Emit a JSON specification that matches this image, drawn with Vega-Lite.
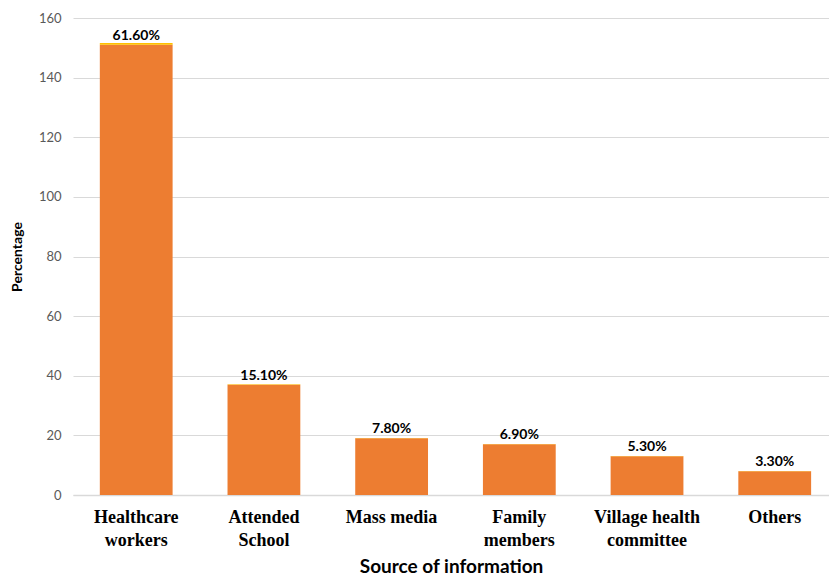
{
  "$schema": "https://vega.github.io/schema/vega-lite/v6.json",
  "width": 756,
  "height": 477,
  "autosize": {"type": "none"},
  "padding": {"left": 73, "top": 18, "right": 0, "bottom": 82},
  "background": "white",
  "data": {
    "values": [
      {"source": "Healthcare\nworkers", "count": 151, "share": 0.616, "label": "61.60%"},
      {"source": "Attended\nSchool", "count": 37, "share": 0.151, "label": "15.10%"},
      {"source": "Mass media", "count": 19, "share": 0.078, "label": "7.80%"},
      {"source": "Family\nmembers", "count": 17, "share": 0.069, "label": "6.90%"},
      {"source": "Village health\ncommittee", "count": 13, "share": 0.053, "label": "5.30%"},
      {"source": "Others", "count": 8, "share": 0.033, "label": "3.30%"}
    ]
  },
  "config": {"view": {"stroke": null}},
  "encoding": {
    "x": {
      "field": "source",
      "type": "nominal",
      "sort": null,
      "scale": {"paddingInner": 0.43, "paddingOuter": 0.175, "align": 0.6},
      "axis": {
        "title": "Source of information",
        "titleFont": "Lato",
        "titleFontSize": 19,
        "titleFontWeight": "bold",
        "titleColor": "#000000",
        "titlePadding": 8,
        "labelExpr": "split(datum.label, '\\n')",
        "labelFont": "Liberation Serif",
        "labelFontSize": 18,
        "labelFontWeight": "bold",
        "labelColor": "#000000",
        "labelLineHeight": 23,
        "labelAngle": 0,
        "labelPadding": 13,
        "ticks": false,
        "domainColor": "#d9d9d9",
        "domainWidth": 1.5
      }
    }
  },
  "layer": [
    {
      "transform": [{"fold": ["count", "share"], "as": ["series", "value"]}],
      "mark": {"type": "bar"},
      "encoding": {
        "y": {
          "field": "value",
          "type": "quantitative",
          "stack": "zero",
          "scale": {"domain": [0, 160]},
          "axis": {
            "title": "Percentage",
            "titleFont": "Lato",
            "titleFontSize": 14,
            "titleFontWeight": "bold",
            "titleColor": "#000000",
            "titlePadding": 14,
            "values": [0, 20, 40, 60, 80, 100, 120, 140, 160],
            "labelFont": "Lato",
            "labelFontSize": 13,
            "labelColor": "#595959",
            "labelPadding": 12,
            "ticks": false,
            "domain": false,
            "grid": true,
            "gridColor": "#d9d9d9",
            "gridWidth": 1.2
          }
        },
        "color": {
          "field": "series",
          "type": "nominal",
          "scale": {"domain": ["count", "share"], "range": ["#ED7D31", "#FFC000"]},
          "legend": null
        },
        "order": {"field": "series", "sort": "ascending"}
      }
    },
    {
      "mark": {"type": "text", "dy": -9, "font": "Lato", "fontSize": 14, "fontWeight": "bold", "color": "#000000"},
      "encoding": {
        "y": {"field": "count", "type": "quantitative"},
        "text": {"field": "label", "type": "nominal"}
      }
    }
  ]
}
